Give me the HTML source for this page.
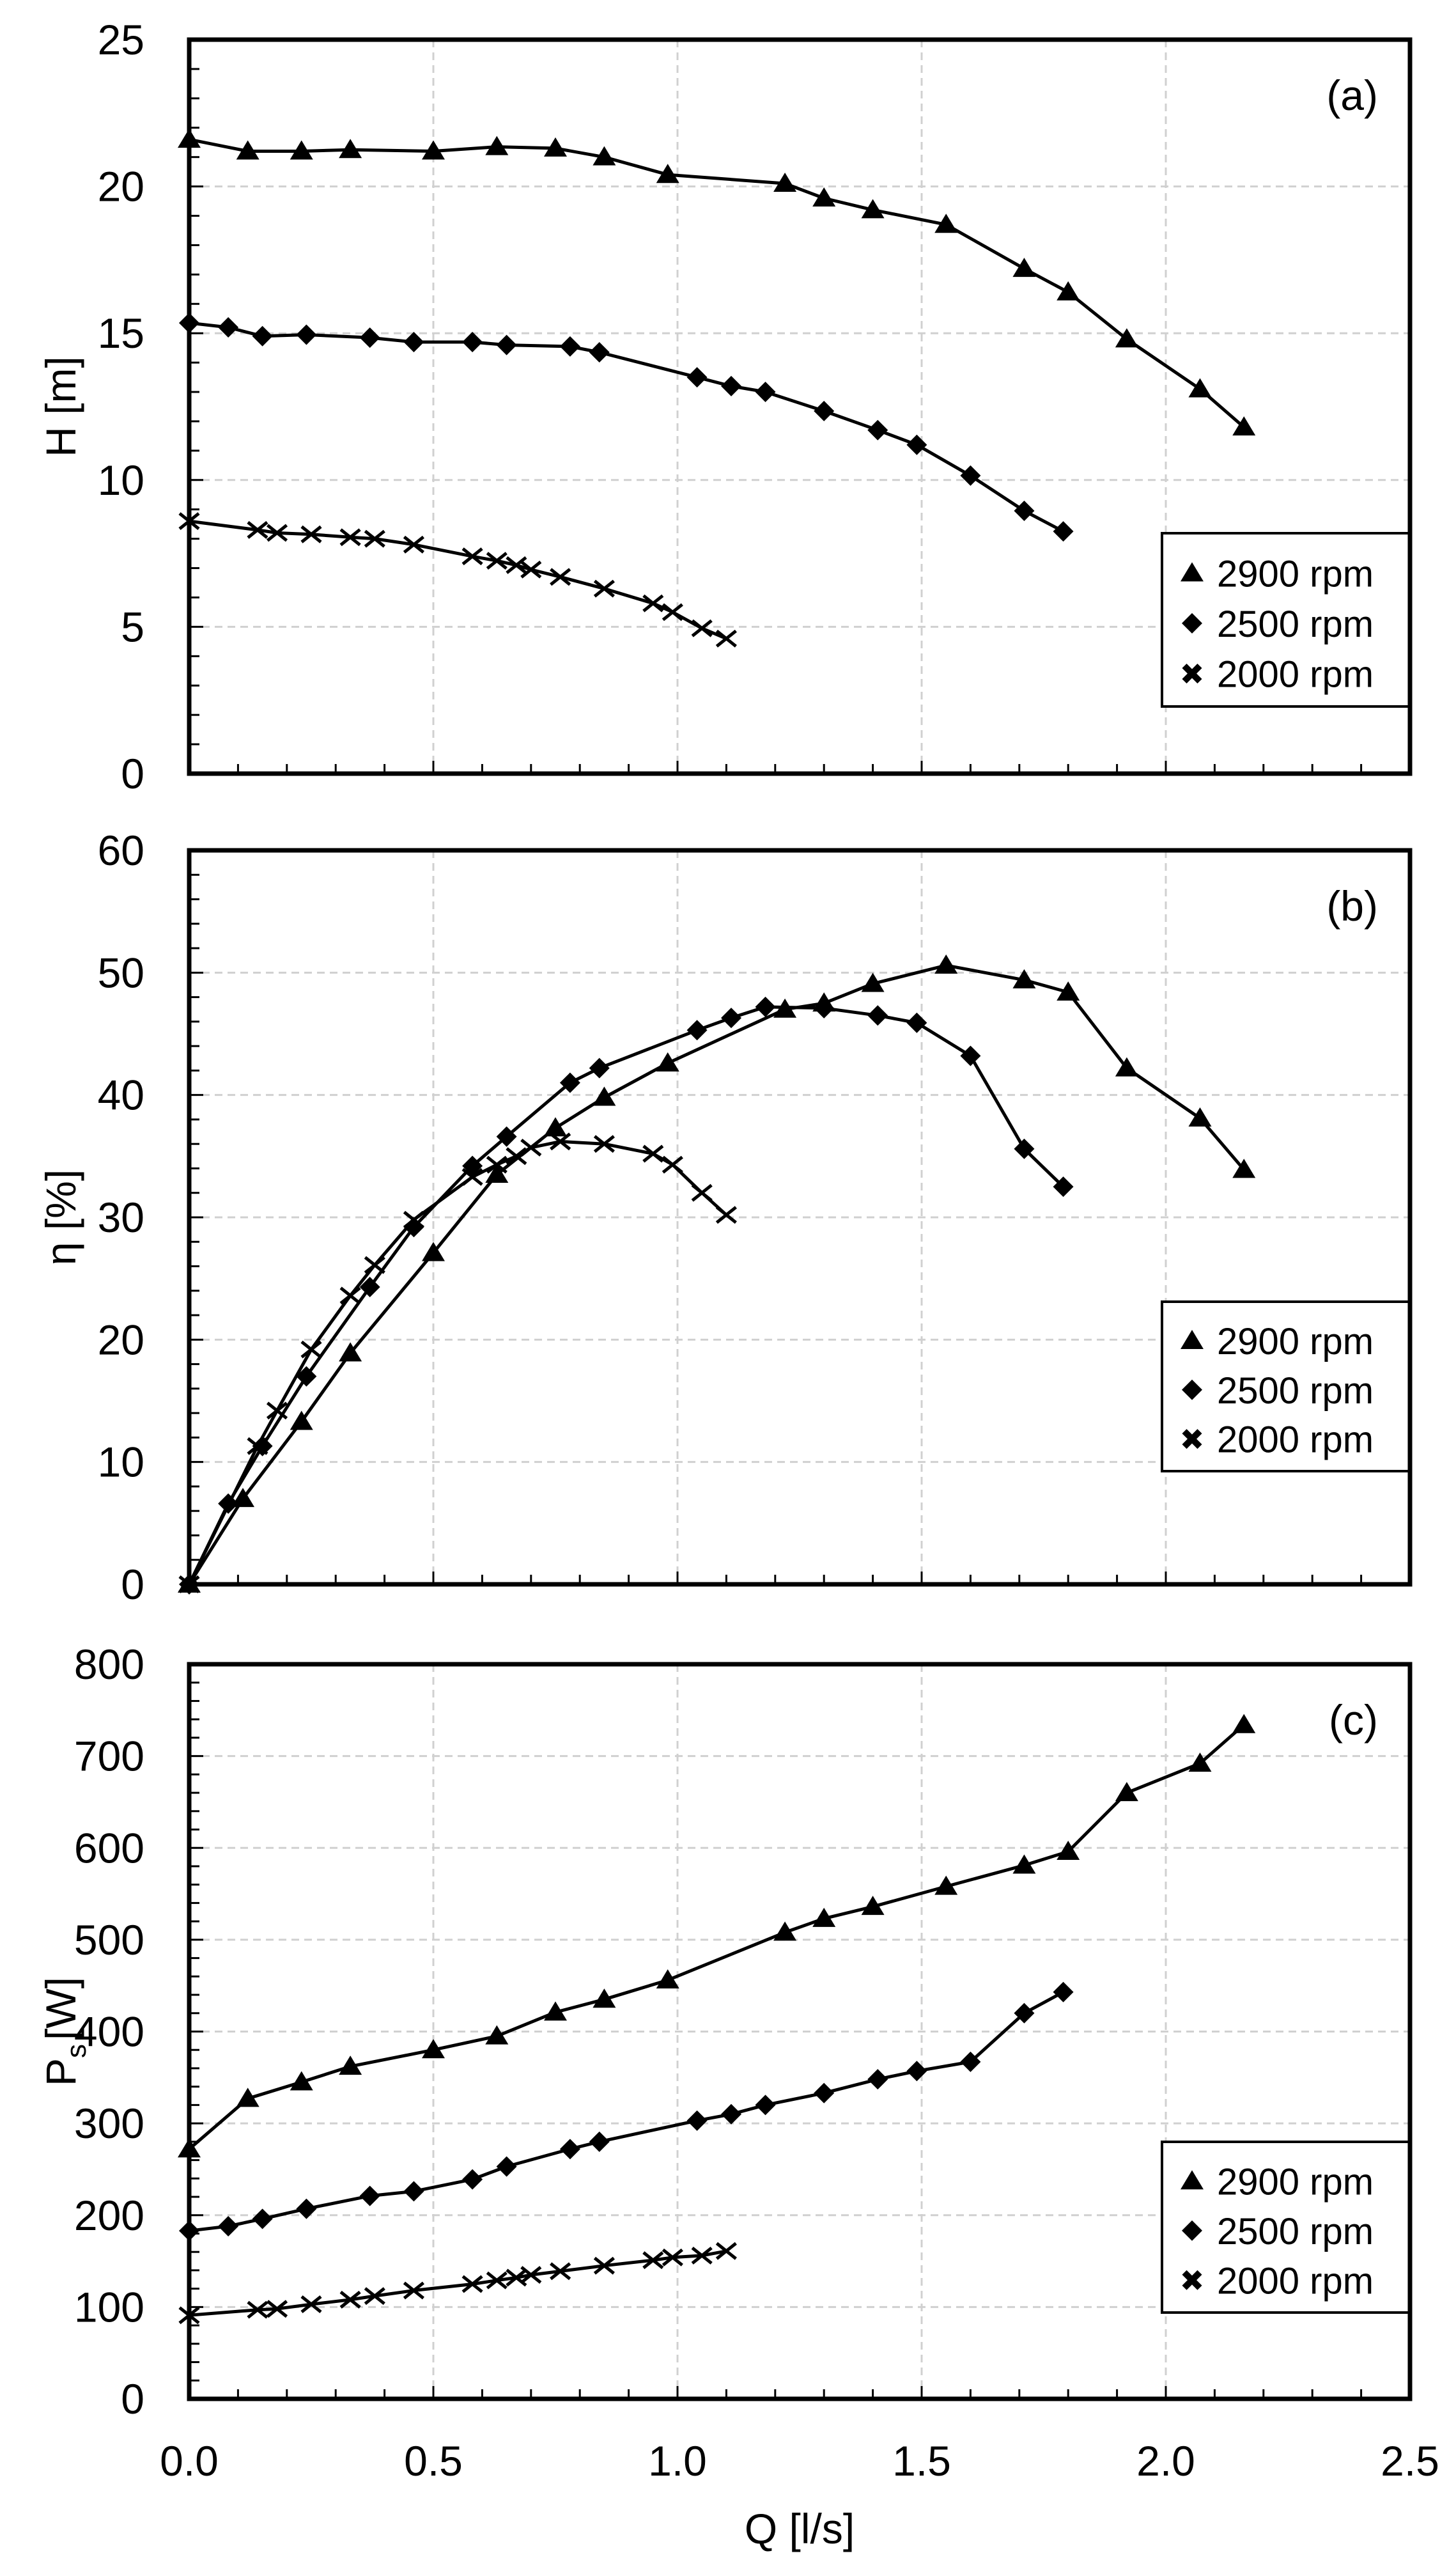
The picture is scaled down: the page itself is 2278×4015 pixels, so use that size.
<!DOCTYPE html>
<html><head><meta charset="utf-8"><style>
html,body{margin:0;padding:0;background:#fff;}
svg{display:block;}
text{font-family:"Liberation Sans",sans-serif;fill:#000;}
</style></head><body>
<svg id="s" width="2278" height="4015" xmlns="http://www.w3.org/2000/svg"></svg>
<script>
const S=document.getElementById('s');let h='';
const X0=296,X1=2206,xs=q=>X0+q/2.5*(X1-X0);
const panels=[
 {top:62,bot:1210,max:25,step:5,minor:1,lab:'(a)',yl:'H [m]',leg:[834,1105],
  d:[
  [[0,21.6],[0.12,21.2],[0.23,21.2],[0.33,21.25],[0.5,21.2],[0.63,21.35],[0.75,21.3],[0.85,21.0],[0.98,20.4],[1.22,20.1],[1.3,19.6],[1.4,19.2],[1.55,18.7],[1.71,17.2],[1.8,16.4],[1.92,14.8],[2.07,13.1],[2.16,11.8]],
  [[0,15.35],[0.08,15.2],[0.15,14.9],[0.24,14.95],[0.37,14.85],[0.46,14.7],[0.58,14.7],[0.65,14.6],[0.78,14.55],[0.84,14.35],[1.04,13.5],[1.11,13.2],[1.18,13.0],[1.3,12.35],[1.41,11.7],[1.49,11.2],[1.6,10.15],[1.71,8.95],[1.79,8.25]],
  [[0,8.6],[0.14,8.3],[0.18,8.2],[0.25,8.15],[0.33,8.05],[0.38,8.0],[0.46,7.8],[0.58,7.4],[0.63,7.25],[0.67,7.1],[0.7,6.95],[0.76,6.7],[0.85,6.3],[0.95,5.8],[0.99,5.5],[1.05,4.95],[1.1,4.6]]]},
 {top:1330,bot:2478,max:60,step:10,minor:2,lab:'(b)',yl:'η [%]',leg:[2036,2301],
  d:[
  [[0,0],[0.11,7],[0.23,13.3],[0.33,18.9],[0.5,27.1],[0.63,33.5],[0.75,37.3],[0.85,39.8],[0.98,42.6],[1.22,47],[1.3,47.5],[1.4,49.1],[1.55,50.6],[1.71,49.4],[1.8,48.4],[1.92,42.2],[2.07,38.1],[2.16,33.9]],
  [[0,0],[0.08,6.6],[0.15,11.3],[0.24,17],[0.37,24.3],[0.46,29.2],[0.58,34.2],[0.65,36.6],[0.78,41],[0.84,42.2],[1.04,45.3],[1.11,46.3],[1.18,47.2],[1.3,47.1],[1.41,46.5],[1.49,45.9],[1.6,43.2],[1.71,35.6],[1.79,32.5]],
  [[0,0],[0.14,11.3],[0.18,14.2],[0.25,19.2],[0.33,23.6],[0.38,26.1],[0.46,29.8],[0.58,33.3],[0.63,34.3],[0.67,35],[0.7,35.7],[0.76,36.2],[0.85,36],[0.95,35.2],[0.99,34.3],[1.05,32],[1.1,30.2]]]},
 {top:2603,bot:3752,max:800,step:100,minor:20,lab:'(c)',yl:'Ps',leg:[3350,3617],
  d:[
  [[0,272],[0.12,327],[0.23,345],[0.33,362],[0.5,380],[0.63,395],[0.75,421],[0.85,435],[0.98,456],[1.22,508],[1.3,523],[1.4,536],[1.55,558],[1.71,581],[1.8,596],[1.92,660],[2.07,692],[2.16,734]],
  [[0,183],[0.08,188],[0.15,196],[0.24,207],[0.37,221],[0.46,226],[0.58,239],[0.65,253],[0.78,272],[0.84,280],[1.04,303],[1.11,310],[1.18,320],[1.3,333],[1.41,348],[1.49,357],[1.6,367],[1.71,420],[1.79,443]],
  [[0,91],[0.14,97],[0.18,98],[0.25,103],[0.33,108],[0.38,112],[0.46,118],[0.58,125],[0.63,129],[0.67,132],[0.7,135],[0.76,139],[0.85,145],[0.95,151],[0.99,154],[1.05,156],[1.1,161]]]}
];
function mk(t,x,y){
 if(t==0)return `<path d="M${x} ${y-17}L${x+18} ${y+13}L${x-18} ${y+13}Z" fill="#000"/>`;
 if(t==1)return `<path d="M${x} ${y-16}L${x+16} ${y}L${x} ${y+16}L${x-16} ${y}Z" fill="#000"/>`;
 return `<path d="M${x-15} ${y-12}L${x+15} ${y+12}M${x-15} ${y+12}L${x+15} ${y-12}" stroke="#000" stroke-width="5"/>`;
}
function mkL(t,x,y){
 if(t==2)return `<path d="M${x-12} ${y-12}L${x+12} ${y+12}M${x-12} ${y+12}L${x+12} ${y-12}" stroke="#000" stroke-width="10"/>`;
 return mk(t,x,y);
}
panels.forEach(p=>{
 const ys=v=>p.bot-v/p.max*(p.bot-p.top);
 for(let q=0.5;q<2.5;q+=0.5)h+=`<line x1="${xs(q)}" y1="${p.top}" x2="${xs(q)}" y2="${p.bot}" stroke="#d0d0d0" stroke-width="3" stroke-dasharray="12,8"/>`;
 for(let v=p.step;v<p.max;v+=p.step)h+=`<line x1="${X0}" y1="${ys(v)}" x2="${X1}" y2="${ys(v)}" stroke="#d0d0d0" stroke-width="3" stroke-dasharray="12,8"/>`;
 for(let v=0;v<=p.max;v+=p.minor)h+=`<line x1="${X0}" y1="${ys(v)}" x2="${X0+(v%p.step==0?22:16)}" y2="${ys(v)}" stroke="#000" stroke-width="3"/>`;
 for(let i=1;i<25;i++)h+=`<line x1="${xs(i/10)}" y1="${p.bot}" x2="${xs(i/10)}" y2="${p.bot-(i%5==0?20:15)}" stroke="#000" stroke-width="3"/>`;
 for(let v=0;v<=p.max;v+=p.step)h+=`<text x="226" y="${ys(v)+23}" font-size="66" text-anchor="end">${v}</text>`;
 const cy=(p.top+p.bot)/2;
 if(p.yl=='Ps')h+=`<text transform="translate(118,${cy}) rotate(-90)" font-size="66" text-anchor="middle">P<tspan font-size="44" dy="16">s</tspan><tspan dy="-16" dx="6">[W]</tspan></text>`;
 else h+=`<text transform="translate(118,${cy}) rotate(-90)" font-size="66" text-anchor="middle">${p.yl}</text>`;
 h+=`<text x="2156" y="${p.top+110}" font-size="66" text-anchor="end">${p.lab}</text>`;
 p.d.forEach((s,t)=>{
  h+=`<polyline points="${s.map(a=>xs(a[0]).toFixed(1)+','+ys(a[1]).toFixed(1)).join(' ')}" fill="none" stroke="#000" stroke-width="5" stroke-linejoin="round"/>`;
  s.forEach(a=>h+=mk(t,xs(a[0]),ys(a[1])));
 });
 const [lt,lb]=p.leg;
 h+=`<rect x="1818" y="${lt}" width="${X1-1818}" height="${lb-lt}" fill="#fff" stroke="#000" stroke-width="4"/>`;
 ['2900 rpm','2500 rpm','2000 rpm'].forEach((n,i)=>{const y=lt+(lb-lt)*(0.23+i*0.29);
  h+=mkL(i,1865,y);h+=`<text x="1904" y="${y+21}" font-size="58">${n}</text>`;});
 h+=`<rect x="${X0}" y="${p.top}" width="${X1-X0}" height="${p.bot-p.top}" fill="none" stroke="#000" stroke-width="7"/>`;
});
for(let q=0;q<=2.5;q+=0.5)h+=`<text x="${xs(q)}" y="3872" font-size="66" text-anchor="middle">${q.toFixed(1)}</text>`;
h+=`<text x="1251" y="3978" font-size="66" text-anchor="middle">Q [l/s]</text>`;
S.innerHTML=h;
</script>
</body></html>
